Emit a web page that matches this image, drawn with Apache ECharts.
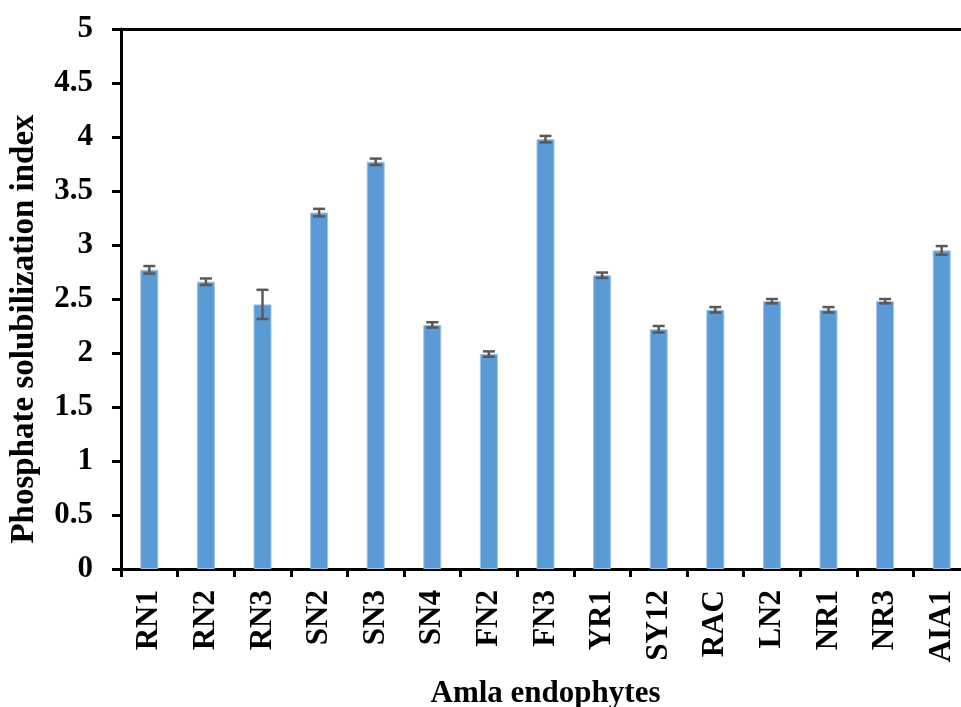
<!DOCTYPE html>
<html>
<head>
<meta charset="utf-8">
<script src="https://cdn.jsdelivr.net/npm/echarts@6/dist/echarts.min.js"></script>
<style>
html,body{margin:0;padding:0;background:#fff;}
#chart{width:961px;height:707px;}
</style>
</head>
<body>
<div id="chart"></div>
<script>
const categories = ['RN1','RN2','RN3','SN2','SN3','SN4','FN2','FN3','YR1','SY12','RAC','LN2','NR1','NR3','AIA1'];
const values = [2.77, 2.66, 2.45, 3.30, 3.77, 2.26, 1.99, 3.98, 2.72, 2.22, 2.40, 2.48, 2.40, 2.48, 2.95];
const errors = [0.035, 0.03, 0.135, 0.035, 0.03, 0.025, 0.025, 0.03, 0.025, 0.03, 0.025, 0.02, 0.025, 0.02, 0.04];
const yTicks = [0, 0.5, 1, 1.5, 2, 2.5, 3, 3.5, 4, 4.5, 5];
const xTitle = 'Amla endophytes';
const yTitle = 'Phosphate solubilization index';

const FONT = '"Liberation Serif", "Times New Roman", serif';
const errData = values.map((v, i) => [i, v - errors[i], v + errors[i]]);

const chart = echarts.init(document.getElementById('chart'), null, {renderer: 'canvas'});
chart.setOption({
  animation: false,
  backgroundColor: '#ffffff',
  grid: {left: 121, top: 29, right: -9, bottom: 138, containLabel: false, outerBoundsMode: 'none'},
  xAxis: [{
    type: 'category',
    data: categories,
    boundaryGap: true,
    axisLine: {lineStyle: {color: '#000', width: 3}},
    axisTick: {show: true, length: 8, lineStyle: {color: '#000', width: 3}},
    axisLabel: {rotate: 90, margin: 21, color: '#000', fontFamily: FONT, fontWeight: 'bold', fontSize: 31},
    name: xTitle,
    nameLocation: 'middle',
    nameGap: 109,
    nameTextStyle: {color: '#000', fontFamily: FONT, fontWeight: 'bold', fontSize: 31}
  }, {
    type: 'category',
    data: categories,
    position: 'top',
    axisLine: {lineStyle: {color: '#000', width: 3}},
    axisTick: {show: false},
    axisLabel: {show: false}
  }],
  yAxis: {
    type: 'value',
    min: yTicks[0],
    max: yTicks[yTicks.length - 1],
    interval: yTicks[1] - yTicks[0],
    axisLine: {show: true, lineStyle: {color: '#000', width: 3}},
    axisTick: {show: true, length: 9, lineStyle: {color: '#000', width: 3}},
    splitLine: {show: false},
    axisLabel: {margin: 28, color: '#000', fontFamily: FONT, fontWeight: 'bold', fontSize: 31},
    name: yTitle,
    nameLocation: 'middle',
    nameGap: 80,
    nameTextStyle: {color: '#000', fontFamily: FONT, fontWeight: 'bold', fontSize: 33, padding: [0, 60, 0, 0]}
  },
  series: [{
    type: 'bar',
    data: values,
    barWidth: 18,
    itemStyle: {color: '#5B9BD5', borderColor: '#9DC3E6', borderWidth: 1}
  }, {
    type: 'custom',
    data: errData,
    encode: {x: 0, y: [1, 2]},
    z: 5,
    renderItem: function (params, api) {
      const i = api.value(0);
      const lo = api.coord([i, api.value(1)]);
      const hi = api.coord([i, api.value(2)]);
      const hw = 6;
      const style = {stroke: '#595959', lineWidth: 2.5};
      return {
        type: 'group',
        children: [
          {type: 'line', shape: {x1: lo[0], y1: lo[1], x2: hi[0], y2: hi[1]}, style: style},
          {type: 'line', shape: {x1: lo[0] - hw, y1: lo[1], x2: lo[0] + hw, y2: lo[1]}, style: style},
          {type: 'line', shape: {x1: hi[0] - hw, y1: hi[1], x2: hi[0] + hw, y2: hi[1]}, style: style}
        ]
      };
    }
  }]
});
</script>
</body>
</html>
